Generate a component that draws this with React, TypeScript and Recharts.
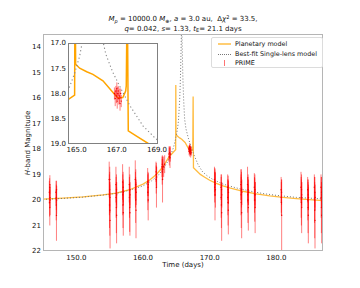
import React from "react";
import { ComposedChart, Line, Scatter, ErrorBar, XAxis, YAxis } from "recharts";

// planetary (binary-lens) model
const planetT = [145, 148, 151, 154, 156, 158, 160, 161, 162, 163, 163.8, 164.3, 164.57, 164.9, 164.92, 164.95, 165.15, 165.5, 165.81, 166.31, 166.81, 167.05, 167.3, 167.44, 167.47, 167.52, 167.57, 168.0, 168.6, 169.2, 170, 171, 172, 173, 175, 177, 179, 181, 183, 185, 187];
const planetM = [19.97, 19.93, 19.88, 19.8, 19.73, 19.6, 19.38, 19.22, 19.0, 18.7, 18.35, 18.2, 18.12, 18.03, 15.5, 17.42, 17.5, 17.57, 17.62, 17.75, 17.98, 18.09, 18.08, 17.95, 17.85, 15.95, 18.74, 18.85, 19.0, 19.1, 19.23, 19.35, 19.45, 19.53, 19.66, 19.76, 19.84, 19.9, 19.95, 19.99, 20.03];

// best-fit single lens
const singleT = [145, 148, 151, 154, 156, 158, 160, 161.3, 162.3, 163.0, 163.7, 164.2, 164.57, 164.9, 165.15, 165.32, 165.5, 165.62, 165.72, 165.8, 165.88, 165.98, 166.1, 166.25, 166.45, 166.8, 167.2, 167.65, 168.3, 168.95, 169.6, 170.5, 172, 174, 176, 178, 180, 183, 187];
const singleM = [19.98, 19.94, 19.89, 19.81, 19.74, 19.62, 19.45, 19.25, 19.03, 18.8, 18.5, 18.2, 17.95, 17.6, 17.26, 16.9, 16.1, 15.2, 14.0, 13.0, 14.0, 15.2, 16.1, 16.85, 17.22, 17.58, 17.9, 18.24, 18.64, 18.9, 19.05, 19.2, 19.38, 19.53, 19.65, 19.75, 19.82, 19.9, 19.96];

// PRIME photometry: [time, mag, err]
const primeObs: number[][] = [
  [145.95, 19.7, 0.45], [145.98, 20.1, 0.55], [146.0, 19.5, 0.35], [146.02, 20.3, 0.7], [146.03, 19.4, 0.37], [146.05, 19.9, 0.4], [146.07, 20.0, 0.6],
  [146.95, 19.7, 0.45], [146.98, 20.2, 0.6], [147.0, 19.9, 0.5], [147.02, 20.6, 1.0], [147.03, 19.6, 0.35], [147.05, 20.0, 0.55],
  [154.93, 19.2, 0.7], [154.96, 19.8, 0.8], [154.98, 20.2, 0.9], [155.0, 19.6, 0.7], [155.01, 19.2, 0.5], [155.02, 20.4, 1.0], [155.04, 19.9, 0.6], [155.06, 20.8, 1.1],
  [155.94, 19.4, 0.7], [155.97, 19.9, 0.8], [156.0, 20.3, 1.0], [156.02, 19.6, 0.6], [156.04, 20.6, 1.1], [156.06, 19.8, 0.5],
  [156.94, 19.3, 0.7], [156.97, 19.8, 0.8], [157.0, 20.2, 0.9], [157.02, 19.5, 0.6], [157.04, 20.5, 0.9], [157.06, 19.7, 0.5],
  [157.94, 19.4, 0.7], [157.97, 19.9, 0.8], [158.0, 20.3, 0.95], [158.02, 19.6, 0.6], [158.04, 20.5, 0.9], [158.06, 19.8, 0.5],
  [158.84, 19.2, 0.75], [158.87, 19.6, 0.7], [158.9, 20.0, 0.9], [158.92, 19.4, 0.6], [158.95, 20.4, 1.1], [158.97, 19.7, 0.5],
  [160.7, 19.3, 0.55], [160.73, 19.7, 0.7], [160.76, 19.5, 0.6], [160.78, 20.0, 0.8], [160.8, 19.4, 0.45],
  [161.95, 18.9, 0.4], [161.98, 19.2, 0.55], [162.0, 19.0, 0.45], [162.02, 19.5, 0.8], [162.05, 19.1, 0.4],
  [162.85, 18.7, 0.4], [162.88, 18.9, 0.5], [162.9, 18.6, 0.35], [162.93, 19.2, 0.9], [162.96, 18.8, 0.4], [163.1, 18.7, 0.4], [163.25, 18.6, 0.35],
  [163.9, 18.2, 0.3], [163.95, 18.3, 0.35], [164.0, 18.15, 0.25], [164.05, 18.35, 0.4], [164.1, 18.2, 0.3],
  [166.88, 18.0, 0.12], [166.92, 18.1, 0.15], [166.95, 17.95, 0.1], [166.98, 18.05, 0.14], [167.0, 17.9, 0.12], [167.02, 18.15, 0.15], [167.05, 18.0, 0.13],
  [167.07, 17.95, 0.1], [167.1, 18.1, 0.12], [167.13, 18.05, 0.15], [167.16, 18.2, 0.14], [167.19, 18.0, 0.1], [167.22, 18.15, 0.12],
  [170.72, 19.2, 0.5], [170.75, 19.5, 0.6], [170.78, 19.3, 0.55], [170.8, 19.8, 1.0], [170.83, 19.4, 0.45], [170.86, 19.6, 0.7],
  [171.7, 19.5, 0.5], [171.73, 19.9, 0.8], [171.76, 20.2, 0.9], [171.78, 19.6, 0.6], [171.8, 20.5, 1.1], [171.82, 19.8, 0.5],
  [172.7, 19.5, 0.5], [172.73, 19.9, 0.7], [172.76, 20.1, 0.9], [172.78, 19.6, 0.55], [172.8, 20.4, 0.95], [172.82, 19.7, 0.45],
  [174.68, 19.4, 0.6], [174.71, 19.8, 0.8], [174.74, 20.1, 1.0], [174.75, 19.3, 0.5], [174.77, 19.6, 0.7], [174.8, 20.5, 1.0], [174.83, 19.7, 0.5],
  [175.68, 19.4, 0.7], [175.71, 19.8, 0.7], [175.74, 20.0, 0.9], [175.77, 19.6, 0.6], [175.8, 20.3, 0.9], [175.83, 19.7, 0.5],
  [176.7, 19.5, 0.55], [176.73, 19.8, 0.7], [176.76, 20.0, 0.85], [176.79, 19.6, 0.6], [176.82, 20.3, 1.0], [176.85, 19.8, 0.5],
  [180.72, 19.6, 0.5], [180.75, 19.9, 0.6], [180.76, 20.1, 0.5], [180.78, 19.7, 0.5], [180.8, 20.6, 1.4],
  [183.7, 19.5, 0.6], [183.73, 19.9, 0.8], [183.76, 20.1, 0.9], [183.78, 19.6, 0.6], [183.8, 20.3, 1.0], [183.82, 19.8, 0.5],
  [184.7, 19.6, 0.5], [184.73, 20.0, 0.8], [184.76, 20.3, 1.0], [184.78, 19.8, 0.6], [184.8, 20.6, 1.1], [184.82, 19.9, 0.5],
  [185.7, 19.5, 0.5], [185.73, 20.0, 0.9], [185.76, 20.4, 1.1], [185.78, 19.7, 0.6], [185.8, 20.8, 1.1], [185.82, 19.9, 0.5],
  [186.7, 19.5, 0.5], [186.73, 19.9, 0.8], [186.76, 20.3, 1.0], [186.78, 19.7, 0.6], [186.8, 20.6, 1.1], [186.83, 19.8, 0.5],
];

const mainXTicks = [150, 160, 170, 180];
const mainYTicks = [14, 15, 16, 17, 18, 19, 20, 21, 22];
const insetXTicks = [165, 167, 169];
const insetYTicks = [17, 17.5, 18, 18.5, 19];

const planet = planetT.map((t, i) => ({ t, m: planetM[i] }));
const single = singleT.map((t, i) => ({ t, m: singleM[i] }));
const prime = primeObs.map(([t, m, e]) => ({ t, m, e }));
const primeInset = prime.filter((p) => p.t > 164.6 && p.t < 169);

const FONT = "'DejaVu Sans', sans-serif";
const tick = { fontSize: 7, fill: "#111", fontFamily: FONT };
const ORANGE = "#ffa500";

const dot = (p: any) => <circle cx={p.cx} cy={p.cy} r={0.7} fill="#ee0000" />;

export default function App() {
  return (
    <div style={{ position: "absolute", left: 0, top: 0, width: 360, height: 288, background: "#fff", fontFamily: FONT, color: "#111" }}>
      <ComposedChart width={360} height={288} margin={{ top: 34, right: 37, bottom: 7, left: 13 }}>
        <XAxis
          type="number" dataKey="t" domain={[145, 187]} allowDataOverflow
          ticks={mainXTicks} tickFormatter={(v) => v.toFixed(1)}
          height={30} axisLine={false} tickLine={false} tickSize={4} tickMargin={0} tick={tick}
        />
        <YAxis
          type="number" dataKey="m" domain={[13.5, 22]} reversed allowDataOverflow
          ticks={mainYTicks} width={30} axisLine={false} tickLine={false} tickSize={0} tickMargin={2} tick={tick}
        />
        <Line data={planet} dataKey="m" type="linear" stroke={ORANGE} strokeOpacity={0.75} strokeWidth={1.3} dot={false} isAnimationActive={false} />
        <Line data={single} dataKey="m" type="linear" stroke="#777" strokeWidth={1} strokeDasharray="1 2" dot={false} isAnimationActive={false} />
        <Scatter data={prime} dataKey="m" shape={dot} isAnimationActive={false}>
          <ErrorBar dataKey="e" direction="y" width={0} stroke="#ff0000" strokeOpacity={0.5} strokeWidth={1} isAnimationActive={false} />
        </Scatter>
      </ComposedChart>

      {/* frame of main axes */}
      <div style={{ position: "absolute", left: 43, top: 34, width: 280, height: 217, border: "1px solid #b5b5b5", boxSizing: "border-box", pointerEvents: "none" }} />

      {/* title */}
      <div style={{ position: "absolute", left: 0, width: 366, top: 15, textAlign: "center", fontSize: 7, lineHeight: "9.5px", whiteSpace: "nowrap" }}>
        <div>
          <i>M</i><span style={{ fontSize: 5, position: "relative", top: 1.5 }}><i>p</i></span> = 10000.0 <i>M</i>
          <span style={{ fontSize: 5, position: "relative", top: 1.5 }}>⊕</span>, <i>a</i> = 3.0 au,&nbsp; Δ<i>χ</i>
          <span style={{ fontSize: 5, position: "relative", top: -2.5 }}>2</span> = 33.5,
        </div>
        <div>
          <i>q</i>= 0.042, <i>s</i>= 1.33, <i>t</i><span style={{ fontSize: 5, position: "relative", top: 1.5 }}>E</span>= 21.1 days
        </div>
      </div>

      {/* axis labels */}
      <div style={{ position: "absolute", left: 27.6, top: 142.5, transform: "translate(-50%, -50%) rotate(-90deg)", fontSize: 7, whiteSpace: "nowrap" }}>
        <i>H</i>-band Magnitude
      </div>
      <div style={{ position: "absolute", left: 183, top: 265, transform: "translate(-50%, -50%)", fontSize: 7, whiteSpace: "nowrap" }}>
        Time (days)
      </div>

      {/* legend */}
      <div style={{ position: "absolute", left: 211, top: 36.5, width: 112, height: 31, border: "1px solid #dcdcdc", borderRadius: 2, background: "rgba(255,255,255,0.85)", boxSizing: "border-box", fontSize: 6.4, lineHeight: "8px" }}>
        <div style={{ position: "absolute", left: 5.5, top: 5.5, width: 13, height: 2.2, background: ORANGE, opacity: 0.55 }} />
        <div style={{ position: "absolute", left: 23, top: 2.5, whiteSpace: "nowrap" }}>Planetary model</div>
        <div style={{ position: "absolute", left: 5.5, top: 16, width: 13, borderTop: "1px dotted #777" }} />
        <div style={{ position: "absolute", left: 23, top: 12.5, whiteSpace: "nowrap" }}>Best-fit Single-lens model</div>
        <div style={{ position: "absolute", left: 11.5, top: 22.5, width: 1, height: 6, background: "#ff0000", opacity: 0.55 }} />
        <div style={{ position: "absolute", left: 23, top: 21.5, whiteSpace: "nowrap" }}>PRIME</div>
      </div>

      {/* inset */}
      <div style={{ position: "absolute", left: 68, top: 43, width: 90, height: 101, background: "#fff" }} />
      <div style={{ position: "absolute", left: 46, top: 38 }}>
        <ComposedChart width={124} height={120} margin={{ top: 5, right: 12, bottom: 0, left: 0 }}>
          <XAxis
            type="number" dataKey="t" domain={[164.57, 169.05]} allowDataOverflow
            ticks={insetXTicks} tickFormatter={(v) => v.toFixed(1)}
            height={14} axisLine={false} tickLine={false} tickSize={3} tickMargin={0} tick={tick}
          />
          <YAxis
            type="number" dataKey="m" domain={[17, 19]} reversed allowDataOverflow
            ticks={insetYTicks} tickFormatter={(v) => v.toFixed(1)}
            width={22} axisLine={false} tickLine={false} tickSize={1} tickMargin={1} tick={tick}
          />
          <Line data={planet} dataKey="m" type="linear" stroke={ORANGE} strokeWidth={1.5} dot={false} isAnimationActive={false} />
          <Line data={single} dataKey="m" type="linear" stroke="#888" strokeWidth={1.1} strokeDasharray="1.2 2.6" dot={false} isAnimationActive={false} />
          <Scatter data={primeInset} dataKey="m" shape={dot} isAnimationActive={false}>
            <ErrorBar dataKey="e" direction="y" width={0} stroke="#ff0000" strokeOpacity={0.5} strokeWidth={1} isAnimationActive={false} />
          </Scatter>
        </ComposedChart>
      </div>
      <div style={{ position: "absolute", left: 68, top: 43, width: 90, height: 101, border: "1px solid #808080", boxSizing: "border-box", pointerEvents: "none" }} />
    </div>
  );
}
